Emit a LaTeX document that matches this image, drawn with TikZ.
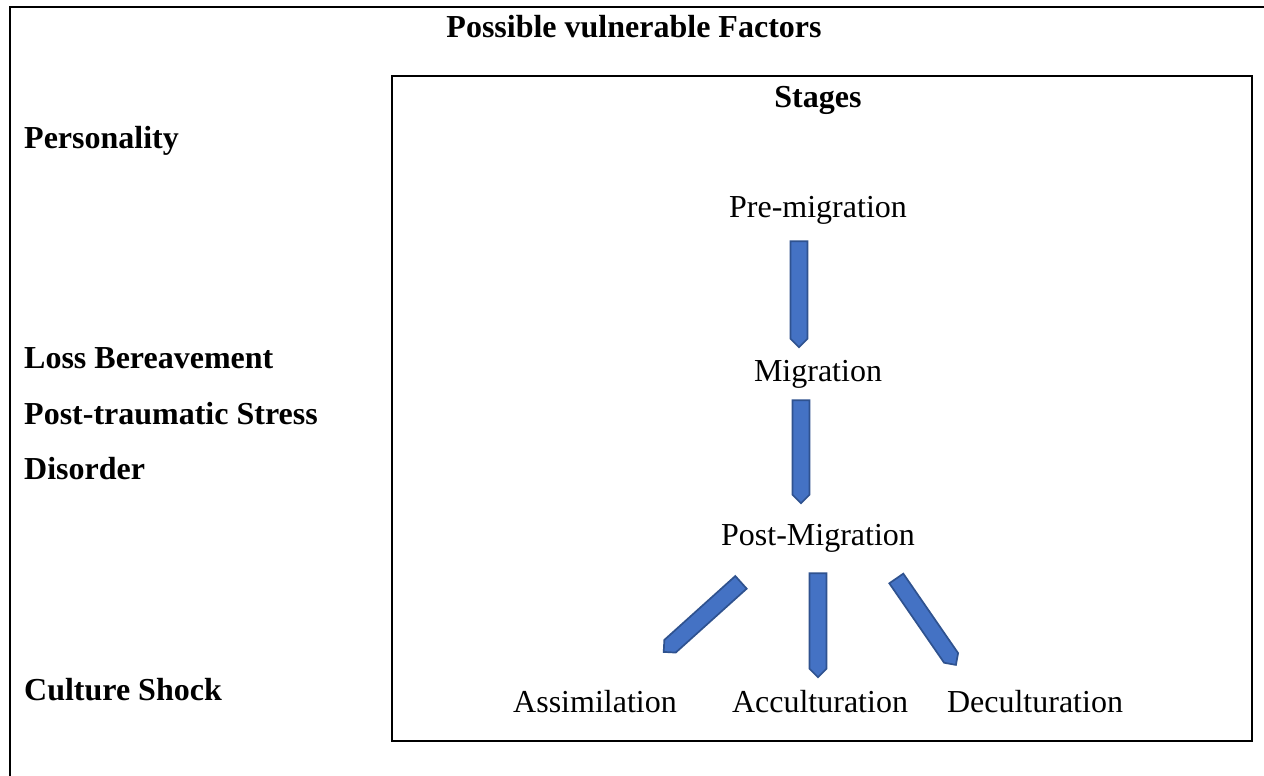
\documentclass[tikz,border=0pt]{standalone}
\usepackage{fontspec}
\setmainfont{Liberation Serif}
\usetikzlibrary{shapes.arrows}
\definecolor{arrowfill}{HTML}{4472C4}
\definecolor{arrowline}{HTML}{2F528F}
\begin{document}
\begin{tikzpicture}[x=1pt,y=-1pt,
  frame/.style={draw=black,line width=1.8pt},
  heading/.style={font=\fontsize{32}{38}\selectfont\bfseries,inner sep=0pt,anchor=base},
  factor/.style={font=\fontsize{32}{38}\selectfont\bfseries,inner sep=0pt,anchor=base west},
  stagetext/.style={font=\fontsize{32}{38}\selectfont,inner sep=0pt,anchor=base},
  blockarrow/.style={shape=single arrow,single arrow head extend=0pt,
    single arrow tip angle=90,minimum width=17pt,inner sep=0pt,
    fill=arrowfill,draw=arrowline,line width=1.7pt}]
\useasboundingbox (0,0) rectangle (1264,776);
\clip (0,0) rectangle (1264,776);
\fill[white] (0,0) rectangle (1264,776);

% outer frame (runs past the right and bottom edges)
\draw[frame] (10,7) rectangle (1290,800);
% stages frame
\draw[frame] (392,76) rectangle (1252,741);

\node[heading] (title) at (634,38) {Possible vulnerable Factors};
\node[heading] (stages) at (818,107) {Stages};

% vulnerable factors
\node[factor] (personality) at (24,148) {Personality};
\node[factor] (loss) at (24,368) {Loss Bereavement};
\node[factor] (ptsd) at (24,424) {Post-traumatic Stress};
\node[factor] (disorder) at (24,479) {Disorder};
\node[factor] (shock) at (24,700) {Culture Shock};

% stages
\node[stagetext] (pre) at (818,217) {Pre-migration};
\node[stagetext] (mig) at (818,381) {Migration};
\node[stagetext] (post) at (818,545) {Post-Migration};
\node[stagetext] (assim) at (595,712) {Assimilation};
\node[stagetext] (accul) at (820,712) {Acculturation};
\node[stagetext] (decul) at (1035,712) {Deculturation};

% block arrows between the stages
\node[blockarrow,minimum height=106pt,rotate=-90] (a1) at (799,290) {};
\node[blockarrow,minimum height=103pt,rotate=-90] (a2) at (801,447.5) {};
\node[blockarrow,minimum height=104pt,rotate=-90] (a3) at (818,621) {};
\node[blockarrow,minimum height=104pt,rotate=-138] (a4) at (705.5,614.3) {};
\node[blockarrow,minimum height=105pt,rotate=-55.4] (a5) at (923.7,618.2) {};
\end{tikzpicture}
\end{document}
